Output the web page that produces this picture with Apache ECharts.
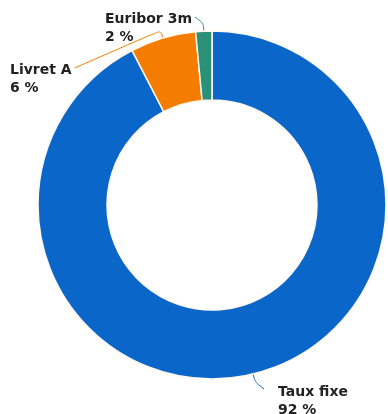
<!DOCTYPE html>
<html>
<head>
<meta charset="utf-8">
<script src="https://cdn.jsdelivr.net/npm/echarts@6/dist/echarts.min.js"></script>
<style>
  html, body { margin: 0; padding: 0; background: #fff; }
  #chart { width: 388px; height: 414px; }
</style>
</head>
<body>
<div id="chart"></div>
<script>
// Data
const categories = ['Taux fixe', 'Livret A', 'Euribor 3m'];
const shares = [92.4, 6.1, 1.5];
const colors = ['#0A66C8', '#F47C00', '#2A9178'];

// label anchors (top-left of each label block)
const labelSpots = [[278, 383], [10, 61], [105, 10]];
// which side of the label the connector attaches to
const lineSide = ['left', 'right', 'right'];

const chart = echarts.init(document.getElementById('chart'));

chart.setOption({
  animation: false,
  series: [{
    type: 'pie',
    center: [212, 205],
    radius: [105, 174],
    startAngle: 90,
    clockwise: true,
    avoidLabelOverlap: false,
    itemStyle: { borderColor: '#FFF8EE', borderWidth: 1.5 },
    label: {
      show: true,
      position: 'outside',
      fontFamily: 'DejaVu Sans',
      fontWeight: 'bold',
      fontSize: 14,
      lineHeight: 18,
      color: '#222',
      formatter: p => p.name + '\n' + Math.round(p.percent) + ' %',
    },
    labelLine: { show: true, smooth: true, length: 8, length2: 8, lineStyle: { width: 1 } },
    labelLayout: p => {
      const [x, y] = labelSpots[p.dataIndex];
      const out = { x, y, align: 'left', verticalAlign: 'top', hideOverlap: false };
      const pts = p.labelLinePoints;
      if (pts && pts.length) {
        const end = lineSide[p.dataIndex] === 'right'
          ? [x + p.labelRect.width + 3, y + 7]
          : [x - 14, y + 6];
        out.labelLinePoints = [pts[0], pts[1], end];
      }
      return out;
    },
    data: categories.map((name, i) => ({
      name,
      value: shares[i],
      itemStyle: { color: colors[i] },
    })),
  }],
});
</script>
</body>
</html>
